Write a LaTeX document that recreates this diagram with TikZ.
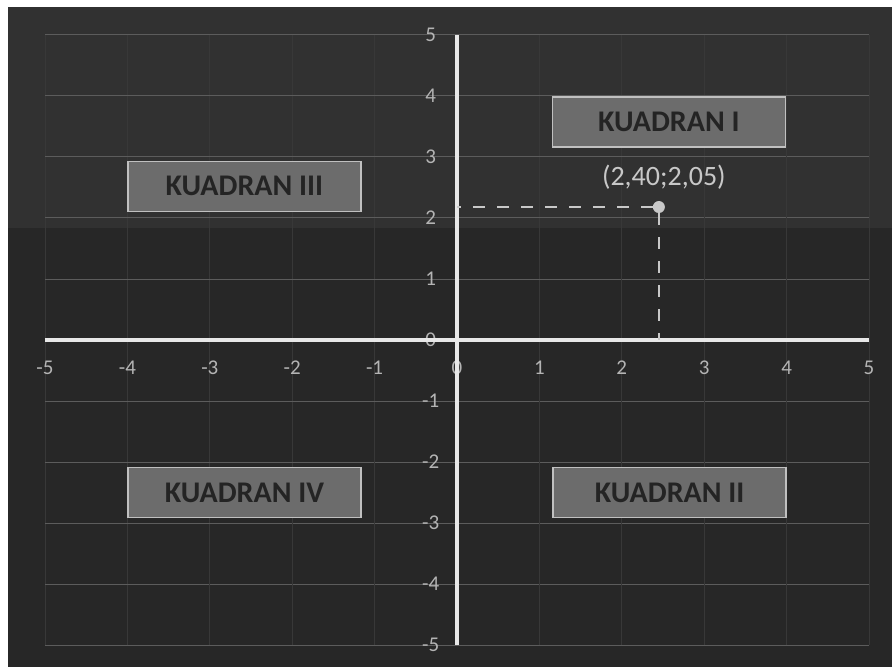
\documentclass[tikz,border=0pt]{standalone}
\usepackage{fontspec}
\setmainfont{Carlito}
\usepackage{xcolor}
\usepackage{tikz}
\usetikzlibrary{positioning, calc}
\definecolor{bgdark}{HTML}{272727}
\definecolor{bgband}{HTML}{313131}
\definecolor{gridmaj}{HTML}{5C5C5C}
\definecolor{gridmin}{HTML}{383838}
\definecolor{axiswhite}{HTML}{E8E8E8}
\definecolor{boxfill}{HTML}{6C6C6C}
\definecolor{boxline}{HTML}{C0C0C0}
\definecolor{boxtext}{HTML}{242424}
\definecolor{ticktext}{HTML}{B4B4B4}
\definecolor{labeltext}{HTML}{C8C8C8}
\tikzstyle{kuadran} = [rectangle, minimum width=233pt, minimum height=50pt, inner sep=0pt, draw=boxline, line width=1.5pt, fill=boxfill, text=boxtext, font=\fontsize{30}{36}\selectfont\bfseries]
\tikzstyle{tick} = [inner sep=0pt, text=ticktext, font=\fontsize{21}{25}\selectfont]
\tikzstyle{coordlabel} = [inner sep=0pt, text=labeltext, font=\fontsize{28}{33}\selectfont]
\tikzstyle{axisline} = [draw=axiswhite, line width=3.5pt]
\tikzstyle{guide} = [draw=labeltext, line width=2.2pt, dash pattern=on 12pt off 12pt]
\tikzstyle{dot} = [circle, minimum size=12pt, inner sep=0pt, fill=labeltext]

\begin{document}
\begin{tikzpicture}[x=82.4pt, y=61pt]
        \useasboundingbox (-5.5461,-5.3607) rectangle (5.2791,5.5738);
        % background and scanned band
        \fill[white] (-5.5461,-5.3607) rectangle (5.2791,5.5738);
        \fill[bgdark] (-5.4490,-5.3607) rectangle (5.2791,5.4590);
        \fill[bgband] (-5.4490,1.84) rectangle (5.2791,5.4590);

        % grid
        \foreach \i in {-5,...,5} {
            \draw[gridmin, line width=0.8pt] (\i,-5) -- (\i,5);
            \draw[gridmaj, line width=1pt] (-5,\i) -- (5,\i);
        }

        % tick labels
        \foreach \i in {-5,...,5} {
            \node (xt\i) [tick] at (\i,-0.46) {\i};
            \node (yt\i) [tick] at (-0.32,\i) {\i};
        }

        % axes
        \coordinate (O) at (0,0);
        \coordinate (xmin) at (-5,0);
        \coordinate (xmax) at (5,0);
        \coordinate (ymin) at (0,-5);
        \coordinate (ymax) at (0,5);
        \draw[axisline] (xmin) -- (xmax);
        \draw[axisline] (ymin) -- (ymax);

        % point and guides
        \node (titik) [dot] at (2.45,2.18) {};
        \draw[guide] (titik) -- (titik -| O);
        \draw[guide] (titik) -- (titik |- O);
        \node (lbl) [coordlabel] at (2.51,2.67) {(2,40;2,05)};

        \node (kuad1) [kuadran] at (2.57,3.57) {KUADRAN I};
        \node (kuad3) [kuadran] at (-2.58,2.52) {KUADRAN III};
        \node (kuad4) [kuadran] at (-2.58,-2.50) {KUADRAN IV};
        \node (kuad2) [kuadran] at (2.58,-2.50) {KUADRAN II};
    \end{tikzpicture}
\end{document}
